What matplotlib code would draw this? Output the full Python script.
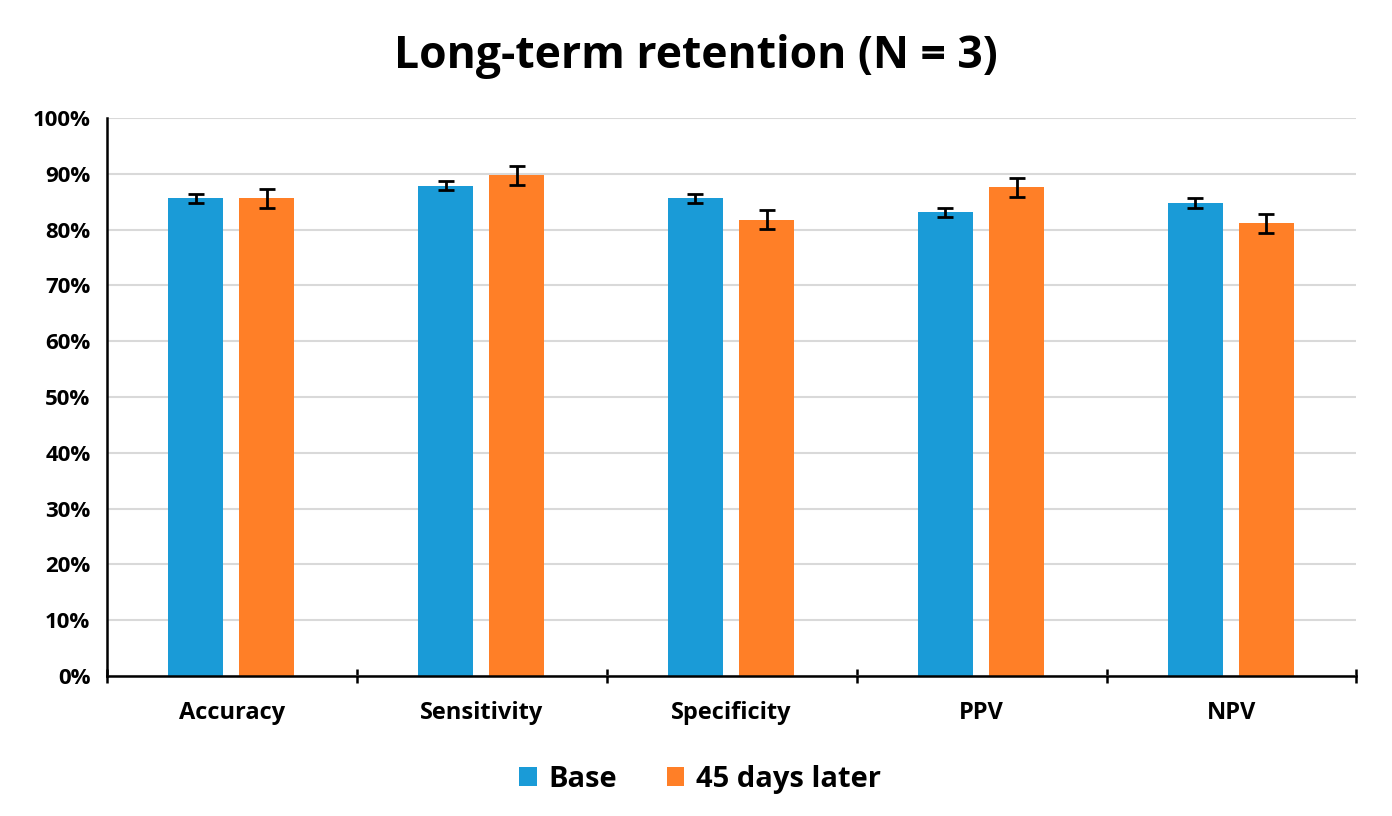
import numpy as np
import matplotlib.pyplot as plt
from matplotlib.ticker import FuncFormatter

# datos
categorias = ["Accuracy", "Sensitivity", "Specificity", "PPV", "NPV"]
base = [85.6, 87.9, 85.6, 83.1, 84.8]
base_err = [0.8, 0.85, 0.85, 0.85, 0.85]
later = [85.6, 89.7, 81.8, 87.6, 81.1]
later_err = [1.75, 1.7, 1.7, 1.73, 1.7]

azul = '#1a9bd7'
naranja = '#ff7f27'

plt.rcParams['font.family'] = ['Open Sans', 'DejaVu Sans']

fig = plt.figure(figsize=(13.92, 8.16), dpi=100)
ax = fig.add_axes([0.0769, 0.1716, 0.8975, 0.6838])

x = np.arange(len(categorias))
ancho = 0.22
ax.bar(x - 0.145, base, ancho, color=azul, label='Base', zorder=3,
       yerr=base_err, error_kw=dict(ecolor='black', elinewidth=2, capsize=6, capthick=2))
ax.bar(x + 0.14, later, ancho, color=naranja, label='45 days later', zorder=3,
       yerr=later_err, error_kw=dict(ecolor='black', elinewidth=2, capsize=6, capthick=2))

ax.set_xlim(-0.5, len(categorias) - 0.5)
ax.set_ylim(0, 100)
ax.set_yticks(np.arange(0, 101, 10))
ax.yaxis.set_major_formatter(FuncFormatter(lambda v, p: f"{int(v)}%"))
ax.tick_params(axis='y', length=0, labelsize=16, pad=12)
for t in ax.get_yticklabels():
    t.set_fontweight('bold')
ax.grid(axis='y', color='#d9d9d9', linewidth=1.5, zorder=0)

# ticks entre categorias (estilo Excel)
ax.set_xticks(np.arange(-0.5, len(categorias), 1.0))
ax.set_xticklabels([])
ax.tick_params(axis='x', length=10, width=1.8, direction='inout')
ax.set_xticks(x, minor=True)
ax.set_xticklabels(categorias, minor=True, fontsize=17, fontweight='bold')
ax.tick_params(axis='x', which='minor', length=0, pad=18)

for s in ['top', 'right']:
    ax.spines[s].set_visible(False)
ax.spines['left'].set_linewidth(1.8)
ax.spines['bottom'].set_linewidth(1.8)
ax.spines['left'].set_zorder(4)
ax.spines['bottom'].set_zorder(4)

fig.suptitle("Long-term retention (N = 3)", fontsize=32, fontweight='bold', y=0.958)

fig.legend(loc='lower center', bbox_to_anchor=(0.503, -0.005), ncol=2, frameon=False,
           prop={'size': 21, 'weight': 'bold'}, handlelength=0.6, handleheight=0.6,
           columnspacing=1.7, handletextpad=0.4)

fig.savefig('out.png', dpi=100)
